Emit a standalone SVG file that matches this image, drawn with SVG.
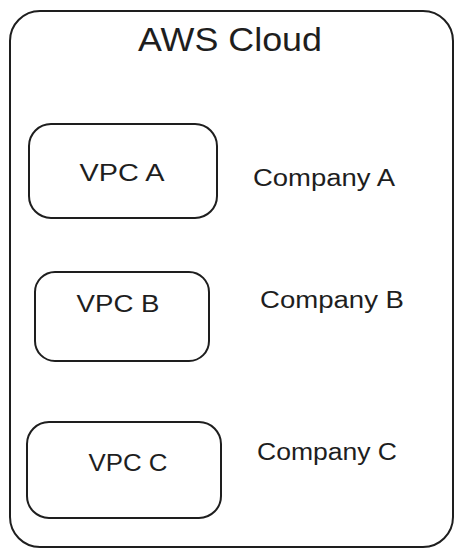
<svg xmlns="http://www.w3.org/2000/svg" width="463" height="557" viewBox="0 0 463 557">
<style>
.box{fill:none;stroke:#1e1e1e;stroke-width:2;stroke-linecap:round;stroke-linejoin:round}
.t{font-family:"Liberation Sans","DejaVu Sans",sans-serif;fill:#1e1e1e}
.lbl{font-size:23px;text-anchor:middle}
</style>
<rect width="463" height="557" fill="#ffffff"/>
<g id="aws-cloud">
<rect class="box" x="10" y="11" width="443" height="536" rx="30" ry="30"/>
<text class="t" x="230" y="51" font-size="33" text-anchor="middle" textLength="184" lengthAdjust="spacingAndGlyphs">AWS Cloud</text>
</g>
<g id="vpc-a">
<rect class="box" x="29" y="124" width="188" height="94" rx="22" ry="22"/>
<text class="t lbl" x="122" y="181" textLength="85" lengthAdjust="spacingAndGlyphs">VPC A</text>
</g>
<g id="vpc-b">
<rect class="box" x="35" y="272" width="174" height="89" rx="20" ry="20"/>
<text class="t lbl" x="118" y="312" textLength="83" lengthAdjust="spacingAndGlyphs">VPC B</text>
</g>
<g id="vpc-c">
<rect class="box" x="27" y="422" width="194" height="96" rx="22" ry="22"/>
<text class="t lbl" x="128" y="471" textLength="79" lengthAdjust="spacingAndGlyphs">VPC C</text>
</g>
<g id="company-a">
<text class="t lbl" x="324" y="186" textLength="142" lengthAdjust="spacingAndGlyphs">Company A</text>
</g>
<g id="company-b">
<text class="t lbl" x="332" y="308" textLength="144" lengthAdjust="spacingAndGlyphs">Company B</text>
</g>
<g id="company-c">
<text class="t lbl" x="327" y="460" textLength="140" lengthAdjust="spacingAndGlyphs">Company C</text>
</g>
<g id="connectors"></g>
</svg>
